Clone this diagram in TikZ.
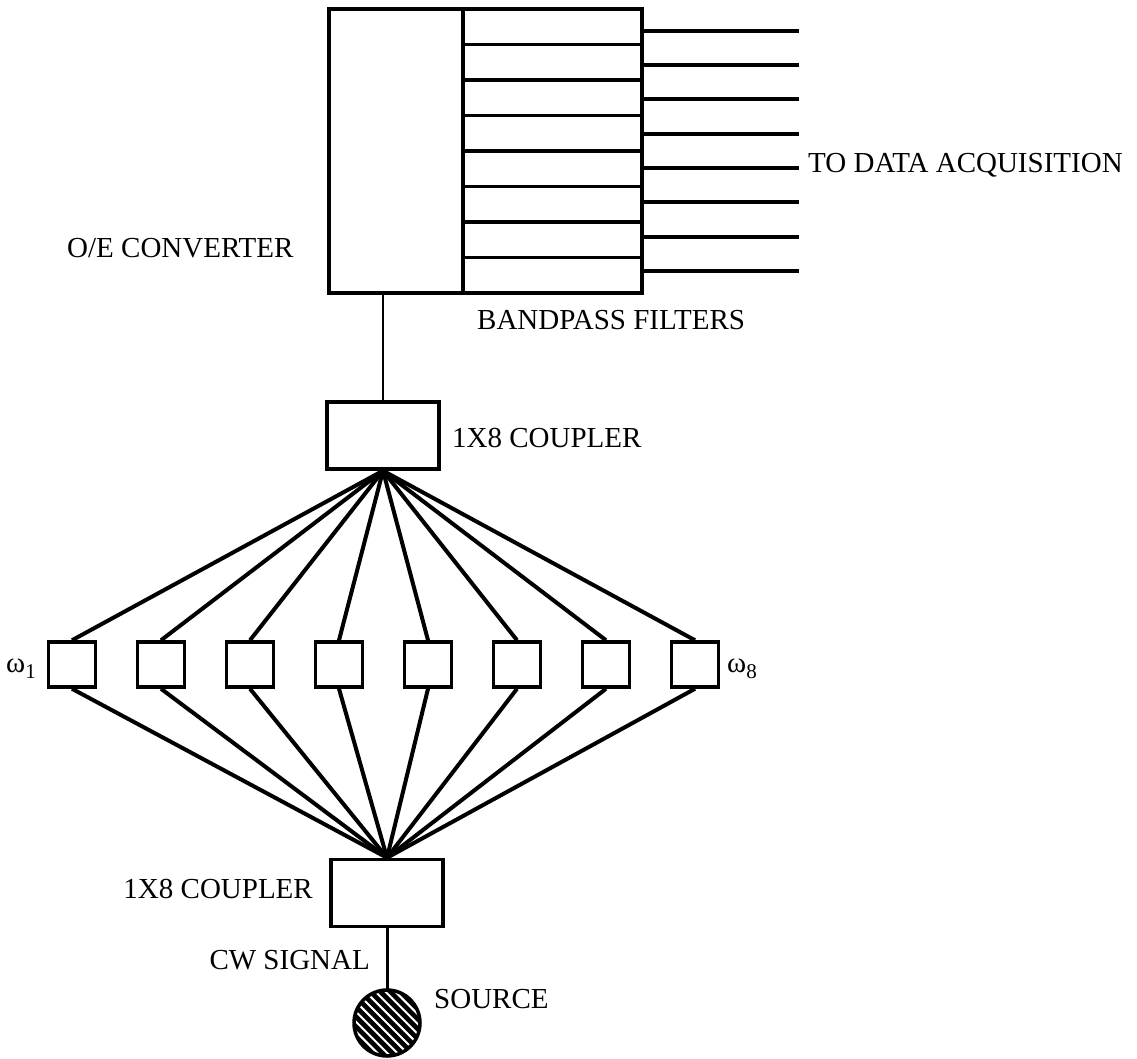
\documentclass[tikz,border=0pt]{standalone}
\usepackage{fontspec}
\setmainfont{Liberation Serif}
\begin{document}
\begin{tikzpicture}[x=1pt,y=-1pt,
  box/.style={draw,line width=3.5pt,minimum width=112pt,minimum height=67pt,inner sep=0pt},
  filt/.style={draw,line width=3.5pt,minimum width=179pt,minimum height=35.5pt,inner sep=0pt},
  osc/.style={draw,line width=3.5pt,minimum width=47pt,minimum height=45pt,inner sep=0pt},
  wire/.style={line width=4pt},
  lbl/.style={inner sep=0pt,font=\fontsize{29}{31}\selectfont}]
\useasboundingbox (0,0) rectangle (1137,1059);

% O/E converter and filter bank
\node[draw,line width=3.5pt,minimum width=134pt,minimum height=284pt,inner sep=0pt] (oe) at (396,151) {};
\foreach \i in {1,...,8}{
  \node[filt] (f\i) at (552.5,{9+35.5*(\i-0.5)}) {};
}
% outputs to data acquisition
\foreach \i/\yy in {1/31,2/65,3/99,4/134,5/168,6/202,7/237,8/271}{
  \coordinate (o\i) at (799,\yy);
  \draw[line width=3.5pt] (f\i.east |- o\i) -- (o\i);
}

% couplers
\node[box] (c1) at (383,435.5) {};
\node[box] (c2) at (387,893) {};
\draw[line width=2.5pt] (c1.north) -- (c1.north |- oe.south);

% eight sources omega_1 ... omega_8
\foreach \i in {1,...,8}{
  \node[osc] (w\i) at ({72+89*(\i-1)},664.5) {};
  \draw[wire] (c1.south) -- (w\i.north);
  \draw[wire] (w\i.south) -- (c2.north);
}

% CW source
\node[circle,minimum size=66pt,inner sep=0pt] (src) at (387,1023) {};
\begin{scope}
  \clip (src.center) circle (33pt);
  \fill (src.center) circle (33pt);
  \foreach \k in {-6,...,6}{
    \draw[white,line width=2pt] ([shift={(\k*7*1.414,0)}]src.center) ++(-50,-50) -- ++(100,100);
  }
\end{scope}
\draw[line width=3.5pt] (src.center) circle (33pt);
\draw[line width=3pt] (c2.south) -- (src.north);

% labels
\node[lbl,anchor=base west] (toe) at (67,258) {O/E CONVERTER};
\node[lbl,anchor=base west] (tbp) at (477,329) {BANDPASS FILTERS};
\node[lbl,anchor=base west] (tda) at (808,173) {TO DATA ACQUISITION};
\node[lbl,anchor=base west] (tc1) at (452,447) {1X8 COUPLER};
\node[lbl,anchor=base east] (tc2) at (313,898) {1X8 COUPLER};
\node[lbl,anchor=base east] (tcw) at (370,969) {CW SIGNAL};
\node[lbl,anchor=base west] (tsr) at (434,1008) {SOURCE};
\node[lbl,anchor=base west] (tw1) at (6,672) {ω\raisebox{-6pt}{\fontsize{21}{21}\selectfont 1}};
\node[lbl,anchor=base west] (tw8) at (727,672) {ω\raisebox{-6pt}{\fontsize{21}{21}\selectfont 8}};
\end{tikzpicture}
\end{document}
